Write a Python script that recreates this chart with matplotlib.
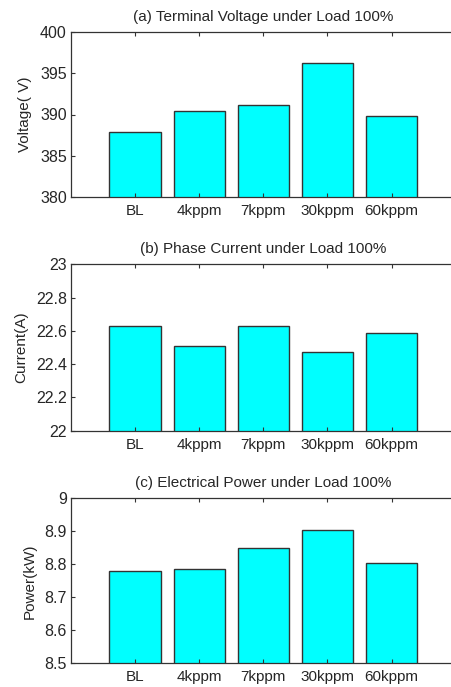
import matplotlib
matplotlib.use("Agg")
import matplotlib.pyplot as plt

plt.rcParams['font.family'] = ['Liberation Sans', 'DejaVu Sans']

# data
categories = ['BL', '4kppm', '7kppm', '30kppm', '60kppm']
voltage = [387.9, 390.4, 391.1, 396.2, 389.8]
current = [22.63, 22.51, 22.63, 22.475, 22.59]
power = [8.78, 8.786, 8.85, 8.905, 8.803]

titles = ['(a) Terminal Voltage under Load 100%',
          '(b) Phase Current under Load 100%',
          '(c) Electrical Power under Load 100%']
ylabels = ['Voltage( V)', 'Current(A)', 'Power(kW)']
ylims = [(380, 400), (22, 23), (8.5, 9)]
yticks = [[380, 385, 390, 395, 400],
          [22, 22.2, 22.4, 22.6, 22.8, 23],
          [8.5, 8.6, 8.7, 8.8, 8.9, 9]]
ytick_labels = [['380', '385', '390', '395', '400'],
                ['22', '22.2', '22.4', '22.6', '22.8', '23'],
                ['8.5', '8.6', '8.7', '8.8', '8.9', '9']]
series = [voltage, current, power]

W, H = 451, 687
fig = plt.figure(figsize=(W / 100, H / 100), dpi=100)

# axes boxes in pixels: (top, bottom)
boxes = [(31.7, 197.3), (264.3, 430.7), (498.3, 663.3)]
left_px, width_px = 71, 384.6
txt = '#262626'

for i in range(3):
    top, bot = boxes[i]
    ax = fig.add_axes([left_px / W, 1 - bot / H, width_px / W, (bot - top) / H])
    x = list(range(1, len(categories) + 1))
    ax.bar(x, series[i], width=0.8, color='#00FFFF', edgecolor='#333333',
           linewidth=1.0)
    ax.set_xlim(0, 6)
    ax.set_ylim(*ylims[i])
    ax.set_xticks(x)
    ax.set_xticklabels(categories, fontsize=11, color=txt)
    ax.set_yticks(yticks[i])
    ax.set_yticklabels(ytick_labels[i], fontsize=11.5, color=txt)
    ax.tick_params(direction='in', top=True, right=False, length=3,
                   width=0.8, color='#333333', pad=3)
    ax.tick_params(axis='x', pad=5)
    ax.spines['right'].set_visible(False)
    for s in ax.spines.values():
        s.set_color('#333333')
        s.set_linewidth(0.9)
    ax.set_title(titles[i], fontsize=11, color=txt, pad=8)
    ax.set_ylabel(ylabels[i], fontsize=11, color=txt, labelpad=5.5)

fig.savefig('out.png', dpi=100)
